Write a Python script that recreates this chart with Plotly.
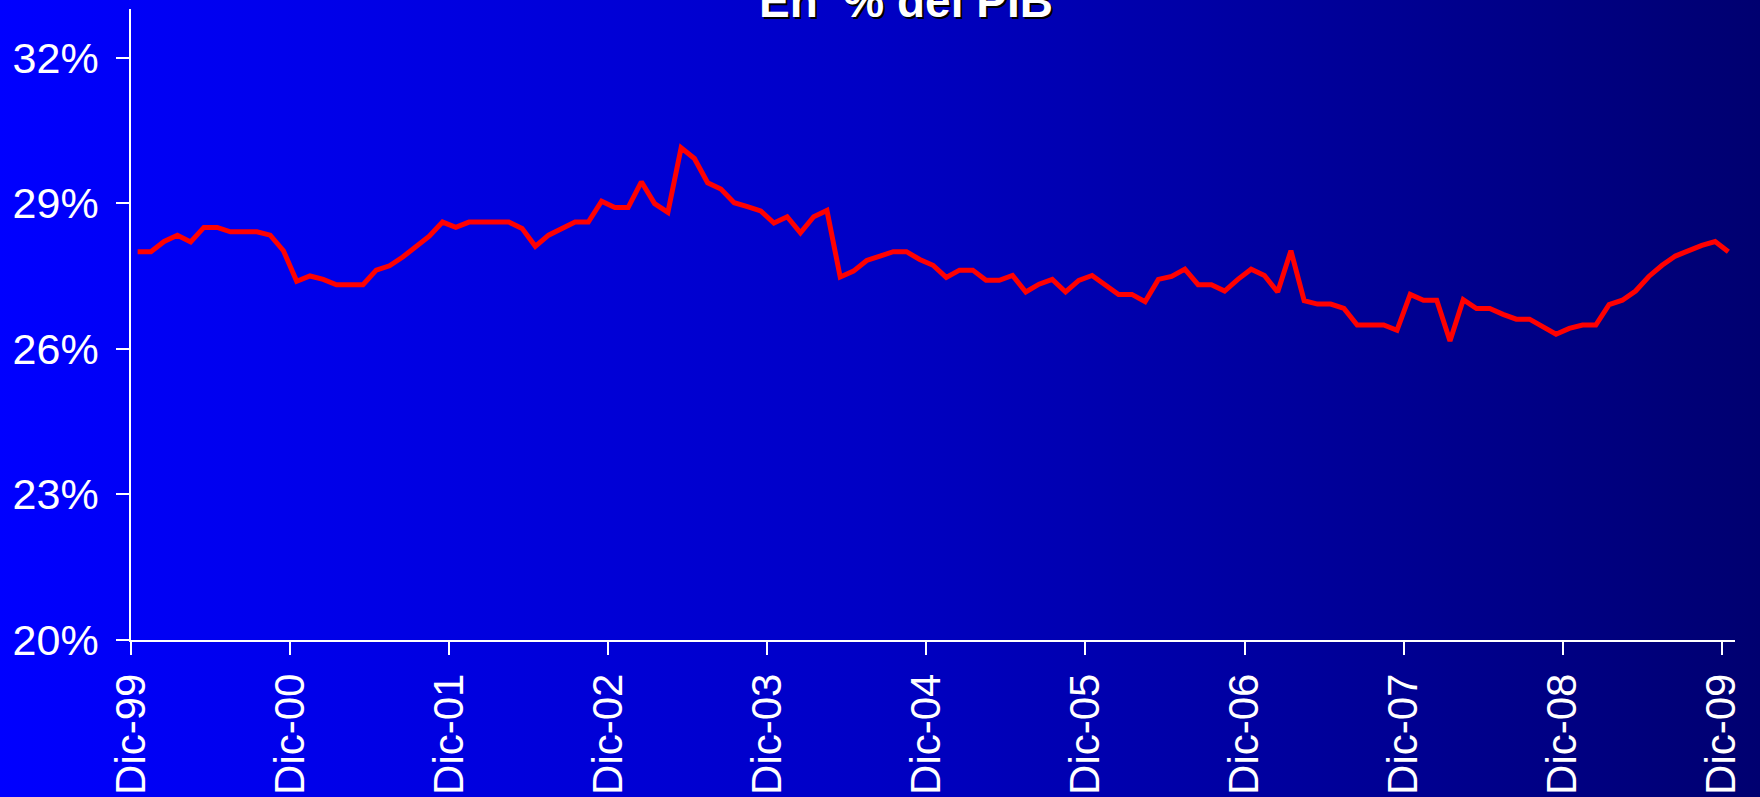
import base64
import plotly.graph_objects as go

# ---- data ----
tick_labels = ["Dic-99", "Dic-00", "Dic-01", "Dic-02", "Dic-03", "Dic-04",
               "Dic-05", "Dic-06", "Dic-07", "Dic-08", "Dic-09"]
y_ticks = [20, 23, 26, 29, 32]
y_tick_labels = ["20%", "23%", "26%", "29%", "32%"]
title_text = "En  % del PIB"

# monthly values (% of GDP), Dec-1999 .. Dec-2009
values = [
    28.00, 28.00, 28.21, 28.34, 28.20, 28.50, 28.50, 28.41, 28.41, 28.41, 28.34, 28.02,
    27.39, 27.50, 27.43, 27.32, 27.32, 27.32, 27.62, 27.71, 27.89, 28.12, 28.32, 28.61,
    28.50, 28.61, 28.61, 28.61, 28.61, 28.48, 28.11, 28.34, 28.48, 28.61, 28.61, 29.04,
    28.91, 28.91, 29.44, 28.99, 28.81, 30.14, 29.92, 29.42, 29.29, 29.01, 28.93, 28.84,
    28.59, 28.72, 28.39, 28.72, 28.85, 27.48, 27.60, 27.82, 27.91, 28.00, 28.00, 27.84,
    27.72, 27.47, 27.62, 27.62, 27.41, 27.41, 27.51, 27.17, 27.33, 27.43, 27.17, 27.41,
    27.51, 27.33, 27.12, 27.12, 26.97, 27.43, 27.49, 27.64, 27.32, 27.32, 27.19, 27.43,
    27.64, 27.51, 27.17, 28.02, 26.99, 26.92, 26.92, 26.83, 26.49, 26.49, 26.49, 26.38,
    27.12, 27.00, 27.00, 26.16, 27.01, 26.83, 26.83, 26.71, 26.61, 26.61, 26.46, 26.30,
    26.42, 26.49, 26.49, 26.91, 27.00, 27.19, 27.49, 27.72, 27.91, 28.02, 28.13, 28.21,
    28.00,
]
months_per_label = 12

# ---- layout geometry ----
W, H = 1760, 797
L, R, T, B = 131, 25, 9, 157
pw, ph = W - L - R, H - T - B

xs = [i + 0.5 for i in range(len(values))]
tick_pos = [i * months_per_label for i in range(len(tick_labels))]

svg = (
    f'<svg xmlns="http://www.w3.org/2000/svg" width="{W}" height="{H}" '
    f'viewBox="0 0 {W} {H}" preserveAspectRatio="none">'
    '<defs><linearGradient id="g" x1="0" y1="0" x2="1" y2="0">'
    '<stop offset="0" stop-color="#0000FF"/>'
    '<stop offset="0.5" stop-color="#0000C4"/>'
    '<stop offset="1" stop-color="#000070"/>'
    '</linearGradient></defs>'
    f'<rect width="{W}" height="{H}" fill="url(#g)"/></svg>'
)
bg_src = "data:image/svg+xml;base64," + base64.b64encode(svg.encode()).decode()

font_family = "Arial, 'Liberation Sans', sans-serif"

fig = go.Figure()
fig.add_trace(go.Scatter(
    x=xs, y=values, mode="lines",
    line=dict(color="#FF0000", width=5),
    hoverinfo="skip", showlegend=False,
))

fig.update_layout(
    width=W, height=H,
    margin=dict(l=L, r=R, t=T, b=B, autoexpand=False),
    paper_bgcolor="#0000B8",
    plot_bgcolor="rgba(0,0,0,0)",
    showlegend=False,
    images=[dict(
        source=bg_src, xref="paper", yref="paper",
        x=-L / pw, y=1 + T / ph, sizex=W / pw, sizey=H / ph,
        xanchor="left", yanchor="top", sizing="stretch", layer="below",
    )],
    xaxis=dict(
        range=[0, len(values)],
        tickmode="array", tickvals=tick_pos, ticktext=tick_labels,
        tickangle=-90,
        tickfont=dict(family=font_family, size=42, color="white"),
        ticks="outside", ticklen=13, tickwidth=1.5, tickcolor="white",
        showline=True, linecolor="white", linewidth=1.5,
        showgrid=False, zeroline=False, automargin=False,
        ticklabelstandoff=2,
    ),
    yaxis=dict(
        range=[20, 33],
        tickmode="array", tickvals=y_ticks, ticktext=y_tick_labels,
        tickfont=dict(family=font_family, size=43, color="white"),
        ticks="outside", ticklen=13, tickwidth=1.5, tickcolor="white",
        showline=True, linecolor="white", linewidth=1.5,
        showgrid=False, zeroline=False, automargin=False,
        ticklabelstandoff=9,
    ),
    annotations=[dict(
        text=f"<b>{title_text}</b>",
        xref="paper", yref="paper",
        x=(906 - L) / pw, y=1 - 20 / ph,
        xanchor="center", yanchor="bottom",
        showarrow=False,
        font=dict(family=font_family, size=46, color="white",
                  shadow="2px 2px 0px #000000"),
    )],
)

fig.write_html(
    "out.html",
    config={"displayModeBar": False},
    post_script="document.body.style.margin='0';document.body.style.overflow='hidden';",
)
